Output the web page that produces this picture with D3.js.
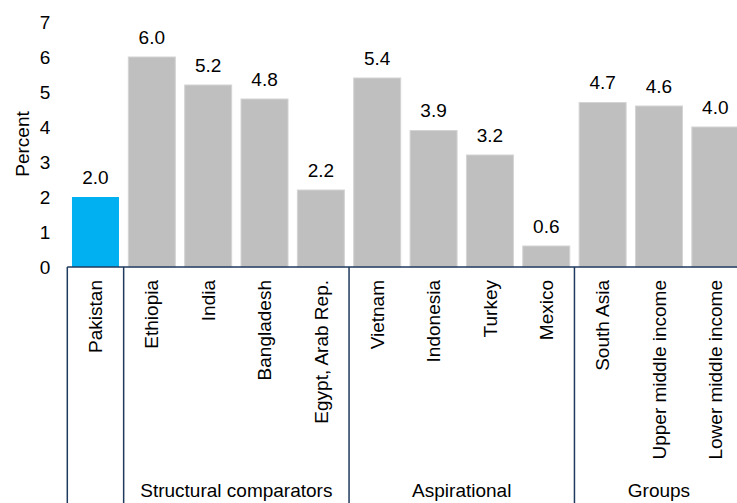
<!DOCTYPE html>
<html>
<head>
<meta charset="utf-8">
<script src="https://cdn.jsdelivr.net/npm/d3@7"></script>
<style>
  html, body { margin: 0; padding: 0; background: #fff; }
  svg { display: block; font-family: "Liberation Sans", Arial, sans-serif; }
</style>
</head>
<body>
<svg id="chart" width="737" height="503"></svg>
<script>
const categories = ["Pakistan", "Ethiopia", "India", "Bangladesh", "Egypt, Arab Rep.",
  "Vietnam", "Indonesia", "Turkey", "Mexico", "South Asia", "Upper middle income", "Lower middle income"];
const values = [2.0, 6.0, 5.2, 4.8, 2.2, 5.4, 3.9, 3.2, 0.6, 4.7, 4.6, 4.0];
const highlight = ["Pakistan"];
const groupNames = ["", "Structural comparators", "Aspirational", "Groups"];
const groupSizes = [1, 4, 4, 3];
const yTicks = [0, 1, 2, 3, 4, 5, 6, 7];
const yTitle = "Percent";

const svg = d3.select("#chart");
const W = 737, H = 503;
const left = 67.3, right = 743.5, y0 = 267, yTop = 22;
const fontSize = 19;
const lineColor = "#1f3a5f";

const x = d3.scaleBand().domain(categories).range([left, right])
  .paddingInner(0.166).paddingOuter(0.083);
const y = d3.scaleLinear().domain([0, 7]).range([y0, yTop]);

// bars
svg.append("g").selectAll("rect").data(categories).join("rect")
  .attr("x", d => x(d))
  .attr("width", x.bandwidth())
  .attr("y", (d, i) => y(values[i]))
  .attr("height", (d, i) => y(0) - y(values[i]))
  .attr("fill", d => highlight.includes(d) ? "#00b0f0" : "#bfbfbf")
  .attr("stroke", d => highlight.includes(d) ? "none" : "#d4d4d4")
  .attr("stroke-width", 1);

// value labels
svg.append("g").selectAll("text").data(categories).join("text")
  .attr("x", d => x(d) + x.bandwidth() / 2)
  .attr("y", (d, i) => y(values[i]) - 20)
  .attr("dy", "0.35em")
  .attr("text-anchor", "middle")
  .attr("font-size", fontSize)
  .attr("fill", "#000")
  .text((d, i) => d3.format(".1f")(values[i]));

// y axis (no line, no ticks)
const yAxis = svg.append("g").attr("transform", `translate(${left},0)`)
  .call(d3.axisLeft(y).tickValues(yTicks).tickSize(0).tickPadding(17).tickFormat(d3.format("d")));
yAxis.select(".domain").remove();
yAxis.selectAll("text").attr("font-size", fontSize).attr("fill", "#000")
  .attr("font-family", "'Liberation Sans', Arial, sans-serif");

// y title
svg.append("text")
  .attr("transform", `translate(22,144) rotate(-90)`)
  .attr("text-anchor", "middle")
  .attr("dy", "0.35em")
  .attr("font-size", fontSize)
  .text(yTitle);

// category box
const step = x.step();
const gap = step - x.bandwidth();
const boundary = i => (i < categories.length ? x(categories[i]) - gap / 2 : x(categories[categories.length - 1]) + x.bandwidth() + gap / 2);

svg.append("line")
  .attr("x1", boundary(0)).attr("x2", W + 20)
  .attr("y1", y0).attr("y2", y0)
  .attr("stroke", lineColor).attr("stroke-width", 1.5);

let idx = 0;
const bounds = [0];
groupSizes.forEach(s => { idx += s; bounds.push(idx); });
svg.append("g").selectAll("line").data(bounds).join("line")
  .attr("x1", d => boundary(d)).attr("x2", d => boundary(d))
  .attr("y1", y0).attr("y2", H)
  .attr("stroke", lineColor).attr("stroke-width", 1.5);

// category labels (rotated)
svg.append("g").selectAll("text").data(categories).join("text")
  .attr("transform", d => `translate(${x(d) + x.bandwidth() / 2},280) rotate(-90)`)
  .attr("text-anchor", "end")
  .attr("dy", "0.35em")
  .attr("font-size", fontSize)
  .text(d => d);

// group labels
svg.append("g").selectAll("text").data(groupNames).join("text")
  .attr("x", (d, i) => (boundary(bounds[i]) + boundary(bounds[i + 1])) / 2)
  .attr("y", 497)
  .attr("text-anchor", "middle")
  .attr("font-size", fontSize)
  .text(d => d);
</script>
</body>
</html>
